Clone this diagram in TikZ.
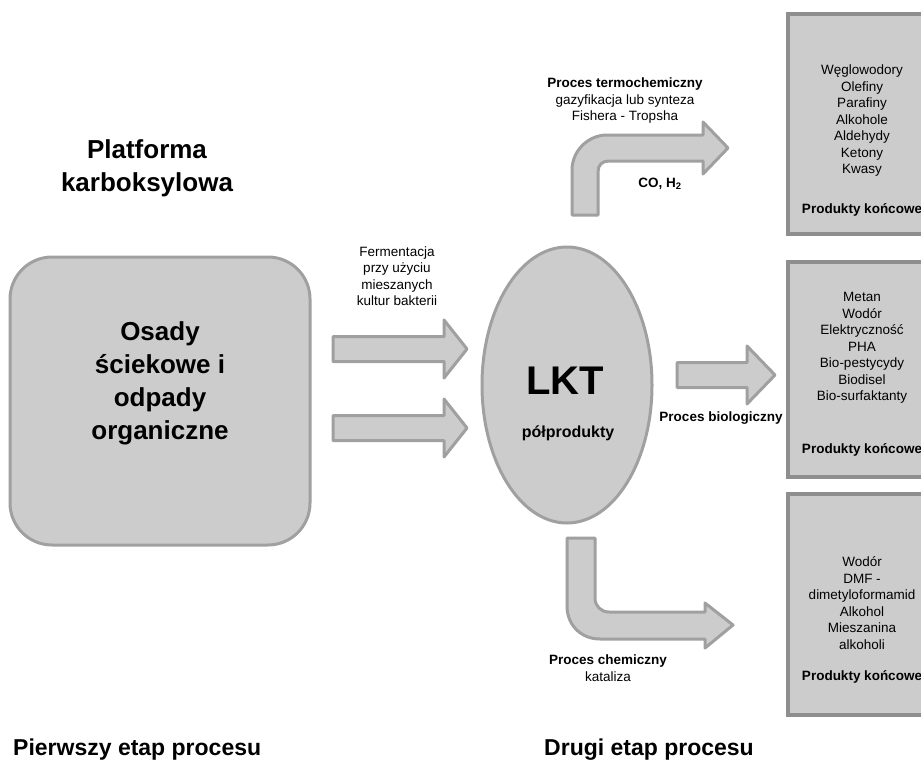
\documentclass[tikz,border=0pt]{standalone}
\usepackage{fontspec}
\setmainfont{Liberation Sans}
\usetikzlibrary{shapes.geometric}
\definecolor{boxfill}{HTML}{CCCCCC}
\definecolor{boxline}{HTML}{A0A0A0}
\definecolor{prodline}{HTML}{8E8E8E}
\newcommand{\txtsmall}{\fontsize{13.5}{16.5}\selectfont}
\newcommand{\txthead}{\fontsize{26}{33}\selectfont\bfseries}
\newcommand{\txtstage}{\fontsize{23}{27}\selectfont\bfseries}
\newcommand{\flatarrow}[4]{\draw[flowarrow] (#1,#4-12.5) -- (#2,#4-12.5) -- (#2,#4-29) -- (#3,#4) -- (#2,#4+29) -- (#2,#4+12.5) -- (#1,#4+12.5) -- cycle;}

\begin{document}
\begin{tikzpicture}[x=1pt,y=-1pt]
  \tikzstyle{graybox}=[draw=boxline, fill=boxfill, line width=3pt]
  \tikzstyle{prodbox}=[draw=prodline, fill=boxfill, line width=3.5pt, anchor=north west, minimum width=150pt]
  \tikzstyle{flowarrow}=[draw=boxline, fill=boxfill, line width=3pt, line join=round]
  \tikzstyle{lbl}=[align=center, font=\txtsmall, inner sep=0pt]
  \useasboundingbox (0,0) rectangle (921,763);

  \node[font=\txthead, align=center] (platform) at (147,168) {Platforma\\karboksylowa};
  \node[graybox, rounded corners=42pt, minimum width=300pt, minimum height=288pt] (waste) at (160,401) {};
  \node[font=\txthead, align=center] (wastetxt) at (160,383) {Osady\\ściekowe i\\odpady\\organiczne};

  \node[lbl] (ferment) at (397,276) {Fermentacja\\przy użyciu\\mieszanych\\kultur bakterii};
  \flatarrow{333}{444}{467}{349}
  \flatarrow{333}{444}{467}{428}

  \node[graybox, ellipse, minimum width=170pt, minimum height=276pt] (lkt) at (567,385) {};
  \node[font=\fontsize{40}{44}\selectfont\bfseries] (lkttxt) at (565,381) {LKT};
  \node[font=\fontsize{16}{19}\selectfont\bfseries] (semi) at (568,433) {półprodukty};

  \draw[flowarrow] (572,215) -- (572,170) .. controls (572,151) and (588,135) .. (607,135) -- (703,135) -- (703,122) -- (728,148) -- (703,174) -- (703,161) -- (609,161) .. controls (602,161) and (598,165) .. (598,172) -- (598,215) -- cycle;
  \node[lbl] (thermo) at (625,101) {\textbf{Proces termochemiczny}\\gazyfikacja lub synteza\\Fishera - Tropsha};
  \node[lbl, font=\txtsmall\bfseries] (syngas) at (660,184) {CO, H\textsubscript{2}};

  \flatarrow{677}{747}{775}{375}
  \node[lbl, font=\txtsmall\bfseries] (bio) at (721,418) {Proces biologiczny};

  \draw[flowarrow] (567,538) -- (567,606) .. controls (567,625) and (581,639) .. (600,639) -- (705,639) -- (705,648) -- (733,625) -- (705,603) -- (705,612) -- (609,612) .. controls (601,612) and (595,606) .. (595,598) -- (595,538) -- cycle;
  \node[lbl] (chem) at (608,668) {\textbf{Proces chemiczny}\\kataliza};

  \node[prodbox, minimum height=220pt] (prodA) at (786,12) {};
  \node[prodbox, minimum height=215pt] (prodB) at (786,260) {};
  \node[prodbox, minimum height=221pt] (prodC) at (786,492) {};
  \node[lbl] (listA) at (862,121) {Węglowodory\\Olefiny\\Parafiny\\Alkohole\\Aldehydy\\Ketony\\Kwasy};
  \node[lbl, font=\txtsmall\bfseries] (endA) at (862,210) {Produkty końcowe};
  \node[lbl] (listB) at (862,348) {Metan\\Wodór\\Elektryczność\\PHA\\Bio-pestycydy\\Biodisel\\Bio-surfaktanty};
  \node[lbl, font=\txtsmall\bfseries] (endB) at (862,450) {Produkty końcowe};
  \node[lbl] (listC) at (862,603) {Wodór\\DMF -\\dimetyloformamid\\Alkohol\\Mieszanina\\alkoholi};
  \node[lbl, font=\txtsmall\bfseries] (endC) at (862,677) {Produkty końcowe};

  \node[font=\txtstage, anchor=west, inner sep=0pt] (stage1) at (13,750) {Pierwszy etap procesu};
  \node[font=\txtstage, inner sep=0pt] (stage2) at (649,750) {Drugi etap procesu};
\end{tikzpicture}
\end{document}
